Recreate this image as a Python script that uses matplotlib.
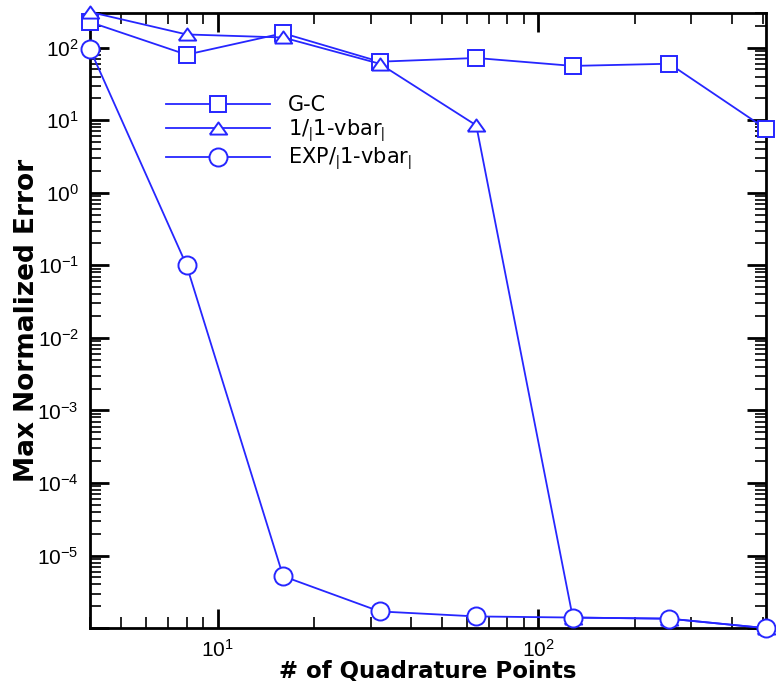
import numpy as np
import matplotlib
matplotlib.use('Agg')
from matplotlib import pyplot as plt
from matplotlib.ticker import LogLocator, FuncFormatter

plt.rcParams['font.family'] = ['Liberation Sans', 'DejaVu Sans']
plt.rcParams['mathtext.fontset'] = 'custom'
plt.rcParams['mathtext.rm'] = 'Liberation Sans'
plt.rcParams['mathtext.it'] = 'Liberation Sans'
plt.rcParams['axes.unicode_minus'] = False

# data
points = [4, 8, 16, 32, 64, 128, 256, 512]
gc_err = [225, 80, 158, 64, 72, 56, 60, 7.6]
inv_err = [310, 152, 138, 60, 8.5, 1.4e-6, 1.35e-6, 1.0e-6]
exp_err = [95, 0.1, 5.2e-6, 1.7e-6, 1.45e-6, 1.4e-6, 1.35e-6, 1.0e-6]

labels = ['G-C', '1/$_|$1-vbar$_|$', 'EXP/$_|$1-vbar$_|$']
blue = '#2626ff'

# flat triangle, wider than tall
tri = [(-1, -0.7), (1, -0.7), (0, 0.7), (-1, -0.7)]

def exp_label(v, pos):
    if v < 1.5e-6:
        return ''
    return r'$\mathdefault{10^{%d}}$' % round(np.log10(v))

fig = plt.figure(figsize=(7.76, 6.85), dpi=100)
ax = fig.add_axes([0.116, 0.083, 0.871, 0.898])

ax.plot(points, gc_err, color=blue, lw=1.3, marker='s', ms=11, mfc='white',
        mec=blue, mew=1.4, clip_on=False, label=labels[0], zorder=3)
ax.plot(points, inv_err, color=blue, lw=1.3, marker=tri, ms=12.5, mfc='white',
        mec=blue, mew=1.4, clip_on=False, label=labels[1], zorder=4)
ax.plot(points, exp_err, color=blue, lw=1.3, marker='o', ms=13, mfc='white',
        mec=blue, mew=1.4, clip_on=False, label=labels[2], zorder=5)

ax.set_xscale('log')
ax.set_yscale('log')
ax.set_xlim(4, 512)
ax.set_ylim(1e-6, 300)

ax.yaxis.set_major_locator(LogLocator(base=10, numticks=20))
ax.yaxis.set_minor_locator(LogLocator(base=10, subs=np.arange(2, 10), numticks=20))
ax.yaxis.set_major_formatter(FuncFormatter(exp_label))
ax.xaxis.set_major_locator(LogLocator(base=10, numticks=20))
ax.xaxis.set_minor_locator(LogLocator(base=10, subs=np.arange(2, 10), numticks=20))

ax.tick_params(which='both', direction='in', top=True, right=True, color='black')
ax.tick_params(which='major', length=14, width=2, labelsize=15, pad=8)
ax.tick_params(which='minor', length=8, width=1.2)
for s in ax.spines.values():
    s.set_linewidth(2)

ax.set_xlabel('# of Quadrature Points', fontsize=16.5, fontweight='bold',
              family='DejaVu Sans', labelpad=-1)
ax.set_ylabel('Max Normalized Error', fontsize=19, fontweight='bold',
              family='DejaVu Sans', labelpad=-2)

ax.legend(loc='upper left', bbox_to_anchor=(0.1, 0.88), frameon=False,
          prop={'family': 'DejaVu Sans', 'size': 15},
          handlelength=5.0, handletextpad=0.85, labelspacing=0.1,
          borderaxespad=0)

fig.savefig('out.png', dpi=100)
